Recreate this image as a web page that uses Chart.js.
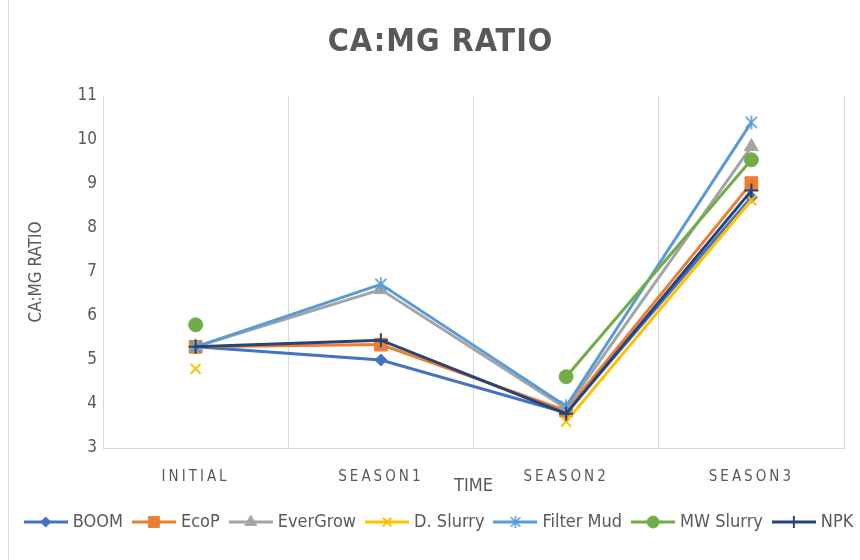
<!DOCTYPE html>
<html><head><meta charset="utf-8">
<script src="https://cdn.jsdelivr.net/npm/chart.js@4.4.1/dist/chart.umd.min.js"></script>
<style>
html,body{margin:0;padding:0;background:#fff;overflow:hidden;width:860px;height:560px}
#frame{position:absolute;left:8px;top:0;width:1px;height:560px;background:#d9d9d9}
canvas{position:absolute;left:0;top:0}
</style></head><body>
<canvas id="c" width="872" height="560"></canvas>
<div id="frame"></div>
<script>
const categories = ['INITIAL', 'SEASON1', 'SEASON2', 'SEASON3'];
const seriesNames = ['BOOM', 'EcoP', 'EverGrow', 'D. Slurry', 'Filter Mud', 'MW Slurry', 'NPK'];
const boom      = [5.3, 5.0,  3.8,  8.7];
const ecoP      = [5.3, 5.35, 3.85, 9.02];
const everGrow  = [5.3, 6.6,  3.9,  9.85];
const dSlurry   = [4.8, null, 3.6,  8.63];
const filterMud = [5.3, 6.72, 3.95, 10.4];
const mwSlurry  = [5.8, null, 4.62, 9.55];
const npk       = [5.3, 5.45, 3.78, 8.85];
const yTicks = [3, 4, 5, 6, 7, 8, 9, 10, 11];

const seriesValues = [boom, ecoP, everGrow, dSlurry, filterMud, mwSlurry, npk];
const colors = ['#4472C4', '#ED7D31', '#A5A5A5', '#FFC000', '#5B9BD5', '#70AD47', '#264478'];
const radii = [6, 9, 8, 7, 7, 7, 7];
const pBorder = [1, 1, 1, 2, 2, 1, 2];

function makeAsterisk(color, r) {
  const s = Math.ceil(2 * r + 4);
  const cv = document.createElement('canvas');
  cv.width = s; cv.height = s;
  const g = cv.getContext('2d');
  const c = s / 2;
  g.strokeStyle = color; g.lineWidth = 1.6;
  g.beginPath();
  g.moveTo(c, c - r); g.lineTo(c, c + r);
  const d = r * 0.8;
  g.moveTo(c - d, c - d); g.lineTo(c + d, c + d);
  g.moveTo(c + d, c - d); g.lineTo(c - d, c + d);
  g.stroke();
  return cv;
}
const styles = ['rectRot', 'rect', 'triangle', 'crossRot', makeAsterisk('#5B9BD5', 7), 'circle', 'cross'];
const legendStyles = ['rectRot', 'rect', 'triangle', 'crossRot', makeAsterisk('#5B9BD5', 6), 'circle', 'cross'];

const FONT = "'Liberation Sans Narrow','DejaVu Sans Condensed','Arial Narrow',sans-serif";
Chart.defaults.font.family = FONT;
Chart.defaults.color = '#595959';

function drawMarker(ctx, style, r, bw, x, y) {
  if (Chart.helpers && Chart.helpers.drawPoint) {
    ctx.lineWidth = bw;
    Chart.helpers.drawPoint(ctx, {pointStyle: style, radius: r, borderWidth: bw, rotation: 0}, x, y);
  }
}

const legendIcons = colors.map((c, i) => {
  const cv = document.createElement('canvas');
  cv.width = 44; cv.height = 20;
  const g = cv.getContext('2d');
  g.strokeStyle = c; g.fillStyle = c; g.lineWidth = 3;
  g.beginPath(); g.moveTo(0, 10); g.lineTo(44, 10); g.stroke();
  drawMarker(g, legendStyles[i], radii[i] * 0.85, pBorder[i], 22, 10);
  return cv;
});

const datasets = seriesNames.map((name, i) => ({
  label: name,
  data: seriesValues[i],
  borderColor: colors[i],
  backgroundColor: colors[i],
  pointStyle: styles[i],
  pointRadius: radii[i],
  pointHoverRadius: radii[i],
  pointBorderWidth: pBorder[i],
  borderWidth: 3,
  tension: 0,
  spanGaps: false,
  order: seriesNames.length - 1 - i
}));

const spacingPlugin = {
  id: 'spacing',
  beforeDraw(chart) {
    const s = chart.scales.x;
    if (s && !s.__ls) {
      const orig = s.drawLabels;
      s.drawLabels = function (a) {
        const c = this.ctx; const p = c.letterSpacing;
        c.letterSpacing = '3px'; orig.call(this, a); c.letterSpacing = p || '0px';
      };
      s.__ls = true;
    }
    const t = chart.titleBlock;
    if (t && !t.__ls) {
      const origT = t.draw;
      t.draw = function () {
        const c = this.ctx; const p = c.letterSpacing;
        c.letterSpacing = '1px'; origT.call(this); c.letterSpacing = p || '0px';
      };
      t.__ls = true;
    }
  }
};

new Chart(document.getElementById('c'), {
  type: 'line',
  data: { labels: categories, datasets },
  options: {
    responsive: false,
    animation: false,
    layout: { padding: { left: 9, right: 0, top: 0, bottom: 19 } },
    plugins: {
      tooltip: { enabled: false },
      title: {
        display: true, text: 'CA:MG RATIO', color: '#595959',
        font: { family: FONT, size: 32, weight: 'bold' },
        padding: { top: 23, bottom: 34.6 }
      },
      legend: {
        position: 'bottom',
        labels: {
          usePointStyle: true, pointStyleWidth: 36, boxHeight: 18, padding: 13,
          color: '#595959', font: { family: FONT, size: 18 },
          generateLabels(chart) {
            return chart.data.datasets.map((d, i) => ({
              text: d.label, fillStyle: d.backgroundColor, strokeStyle: d.borderColor,
              lineWidth: 0, pointStyle: legendIcons[i], hidden: false, datasetIndex: i,
              fontColor: '#595959'
            }));
          }
        }
      }
    },
    scales: {
      x: {
        offset: true,
        grid: { display: true, offset: true, color: '#d9d9d9', lineWidth: 1, drawTicks: false },
        border: { display: true, color: '#d9d9d9' },
        ticks: { color: '#595959', font: { family: FONT, size: 15 }, padding: 20, maxRotation: 0 },
        title: { display: true, text: 'TIME', color: '#595959', font: { family: FONT, size: 18 }, padding: { top: 0, bottom: 3 } },
        afterFit(s) { s.height = 52; }
      },
      y: {
        min: 3, max: 11,
        afterBuildTicks(s) { s.ticks = yTicks.map(v => ({ value: v })); },
        grid: { display: false, drawTicks: false },
        border: { display: false },
        ticks: { color: '#595959', font: { family: FONT, size: 17 }, padding: 6 },
        title: { display: true, text: 'CA:MG RATIO', color: '#595959', font: { family: FONT, size: 17 }, padding: { top: 17, bottom: 0 } },
        afterFit(s) { s.width = 94; }
      },
      yR: {
        position: 'right', display: true,
        grid: { display: false, drawTicks: false }, border: { display: false },
        ticks: { display: false },
        afterFit(s) { s.width = 28; }
      }
    }
  },
  plugins: [spacingPlugin]
});
</script>
</body></html>
